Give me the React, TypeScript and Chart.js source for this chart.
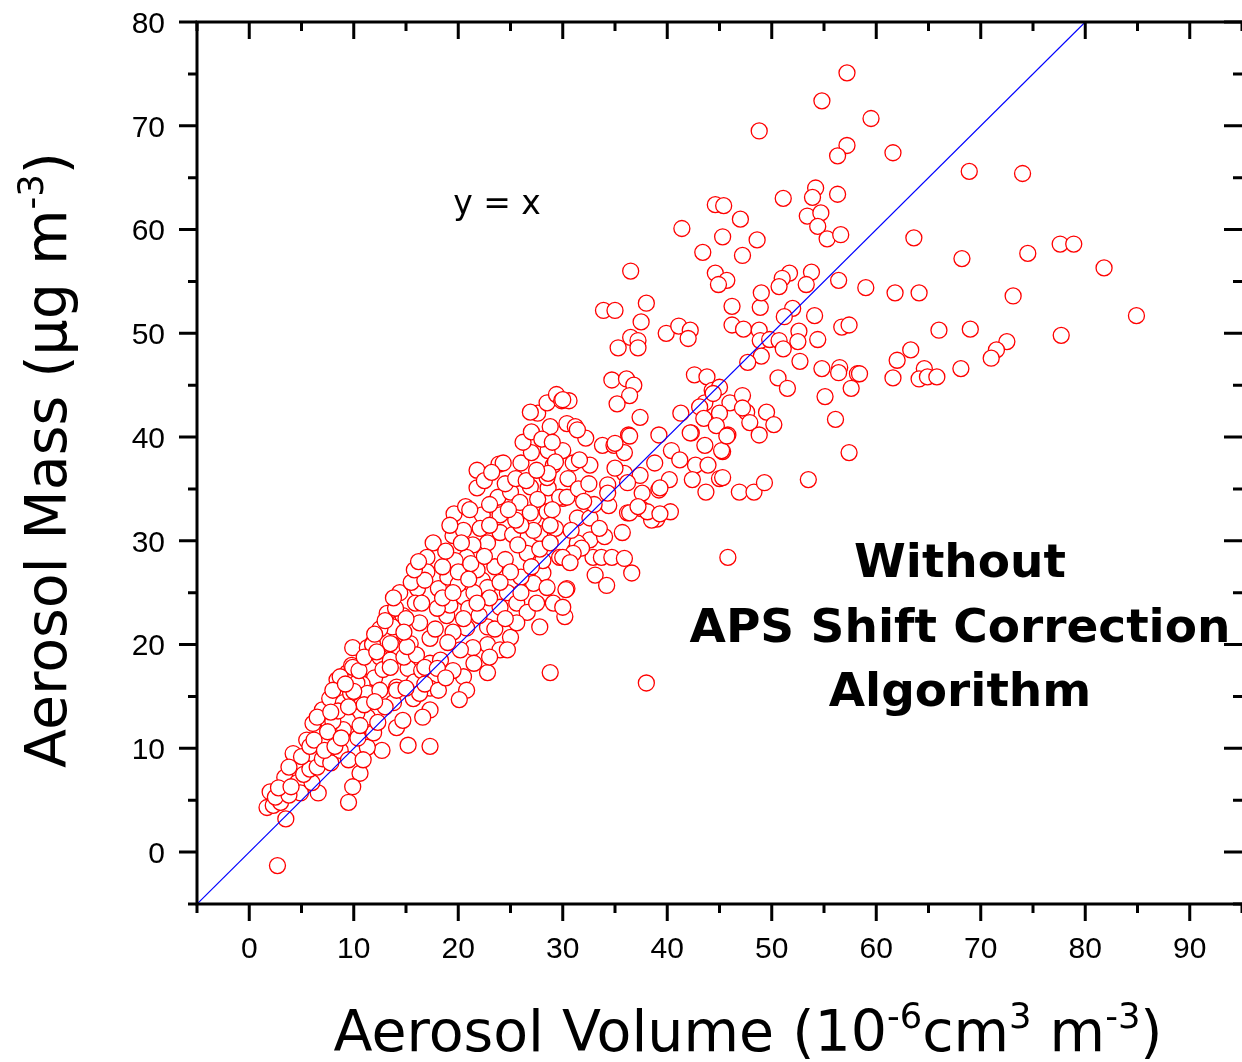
import React, { useEffect, useRef } from "react";
import { Chart, registerables } from "chart.js";

Chart.register(...registerables);

// ---- axis ranges & tick labels ----
const xRange = [-5, 95];
const yRange = [-5, 80];
const xTickValues = [0, 10, 20, 30, 40, 50, 60, 70, 80, 90];
const yTickValues = [0, 10, 20, 30, 40, 50, 60, 70, 80];
const identityLine = [-5, 80]; // y = x reference line endpoints (x = y)

// ---- measurements: [aerosol volume, aerosol mass] ----
const lowCluster: [number, number][] = [
  [2.7, -1.3], [3.5, 3.2], [2.0, 5.8], [1.7, 4.3], [2.3, 4.5], [3.0, 4.8], [3.4, 7.2], [4.6, 6.7], [4.9, 5.7], [6.6, 5.7],
  [6.0, 6.7], [6.3, 9.3], [4.9, 8.6], [4.2, 9.5], [5.5, 10.8], [6.8, 11.5], [6.1, 12.4], [7.5, 12.7], [7.0, 13.7], [7.7, 14.8],
  [8.7, 15.6], [9.4, 17.3], [8.4, 16.6], [9.0, 14.4], [9.9, 12.0], [9.8, 18.0], [9.9, 19.7], [11.3, 19.7], [11.8, 20.1], [11.6, 17.8],
  [12.5, 18.8], [13.7, 20.0], [14.4, 19.5], [15.4, 20.1], [16.3, 22.1], [17.3, 20.6], [17.3, 18.2], [15.2, 17.7], [14.1, 15.9], [13.0, 15.1],
  [11.3, 13.0], [10.3, 13.4], [9.4, 12.7], [9.0, 11.8], [8.0, 11.1], [7.5, 10.5], [8.7, 9.8], [9.5, 8.9], [10.6, 7.6], [9.9, 6.3],
  [9.5, 4.8], [12.7, 9.8], [14.1, 12.0], [15.2, 10.3], [17.3, 10.2], [13.8, 14.4], [15.7, 14.8], [17.3, 15.8], [17.3, 13.7], [16.6, 13.0],
  [11.3, 10.1], [11.9, 11.5], [13.0, 14.0], [14.7, 12.7], [10.9, 8.9], [2.5, 5.3], [3.8, 5.5], [2.8, 6.2], [4.0, 6.3], [5.2, 7.5],
  [5.8, 8.0], [3.8, 8.2], [5.0, 9.2], [6.5, 8.2], [7.0, 9.0], [7.8, 8.6], [5.8, 10.2], [8.0, 12.6], [8.5, 13.6], [7.5, 11.6],
  [10.5, 14.5], [11.5, 15.8], [12.0, 16.8], [10.8, 16.2], [12.8, 17.6], [13.5, 18.5], [14.8, 18.8], [16.0, 19.0], [10.4, 11.0], [12.3, 12.5],
  [15.8, 16.4], [16.5, 17.5], [17.6, 29.8], [17.0, 28.4], [17.0, 27.0], [16.1, 25.4], [14.4, 25.0], [14.7, 22.8], [13.2, 23.0], [13.7, 21.7],
  [15.9, 24.0], [15.1, 19.8], [13.5, 20.1], [11.8, 20.0], [9.9, 17.8], [13.5, 17.8], [10.3, 16.3], [8.7, 16.9], [8.0, 15.6], [9.7, 15.3],
  [11.3, 15.3], [12.5, 15.6], [14.1, 15.6], [16.3, 15.3], [16.8, 17.8], [12.5, 21.5], [13.0, 22.3], [14.0, 23.5], [15.0, 22.5], [15.5, 26.0],
  [16.5, 24.0], [16.8, 26.2], [14.8, 21.2], [12.0, 21.0], [13.8, 24.5], [15.8, 27.2], [16.2, 28.0], [6.2, 10.8], [7.2, 9.8], [8.2, 10.2],
  [8.8, 11.0], [6.5, 13.0], [7.8, 13.5], [9.5, 14.0], [10.0, 15.5], [9.2, 16.2], [10.5, 17.5], [11.0, 18.8], [12.2, 19.3], [11.0, 14.2],
  [12.0, 14.5], [10.6, 12.2], [15.0, 15.8], [16.8, 16.2],
];

const midCluster: [number, number][] = [
  [18.1, 25.4], [18.9, 22.8], [20.5, 24.6], [22.3, 26.2], [21.8, 27.2], [22.8, 25.5], [24.7, 25.0], [24.0, 23.6], [25.6, 24.0], [26.6, 23.1],
  [28.1, 26.9], [27.2, 25.9], [29.1, 24.0], [30.4, 25.4], [30.2, 22.7], [27.8, 21.7], [25.0, 20.7], [25.6, 22.1], [22.8, 21.7], [20.8, 21.6],
  [22.8, 20.0], [21.4, 19.7], [20.2, 19.5], [18.3, 18.5], [18.0, 17.7], [18.1, 15.6], [20.5, 16.9], [20.8, 15.6], [22.8, 17.3], [24.0, 19.5],
  [24.7, 19.5], [28.8, 17.3], [20.1, 14.7], [23.9, 37.4], [21.8, 36.8], [21.8, 35.1], [19.6, 32.6], [20.7, 33.3], [22.3, 32.5], [22.1, 31.2],
  [24.0, 32.5], [23.8, 34.2], [25.0, 34.7], [25.9, 33.7], [26.9, 35.2], [28.6, 35.1], [30.0, 34.1], [28.5, 36.1], [29.1, 37.3], [31.0, 37.5],
  [32.6, 37.3], [24.0, 30.8], [25.2, 30.6], [27.2, 32.3], [28.5, 32.8], [29.3, 31.2], [27.8, 30.7], [31.4, 32.2], [32.6, 30.1], [31.2, 29.1],
  [32.9, 28.4], [29.7, 28.4], [28.1, 28.1], [26.6, 28.8], [25.7, 29.6], [22.8, 29.8], [21.4, 29.6], [20.8, 28.4], [19.7, 28.1], [27.6, 42.3],
  [28.5, 43.3], [29.4, 44.1], [29.9, 43.5], [30.6, 43.5], [28.8, 41.0], [30.4, 41.3], [31.2, 41.0], [32.2, 39.9], [33.8, 39.2], [28.6, 38.7],
  [30.0, 38.7], [29.3, 37.6], [31.6, 37.8], [27.6, 34.0], [24.3, 37.5], [26.9, 32.7], [27.2, 31.0], [28.8, 31.5], [31.4, 29.8], [34.3, 35.4],
  [34.4, 33.4], [34.0, 30.4], [32.6, 32.2], [21.1, 33.0], [34.3, 34.6], [28.6, 36.5], [31.4, 40.7], [30.0, 43.6], [34.9, 39.2], [31.8, 29.3],
  [31.0, 28.8], [30.0, 28.4], [30.7, 27.9], [33.7, 28.4], [34.7, 28.4], [33.1, 26.7], [34.2, 25.7], [30.3, 25.3], [30.0, 23.6], [29.7, 34.2],
  [30.4, 34.2], [26.9, 42.4], [19.0, 26.5], [20.0, 25.8], [21.0, 23.5], [22.0, 22.8], [23.5, 27.5], [24.5, 28.2], [19.5, 30.5], [20.5, 31.0],
  [23.0, 31.5], [26.0, 26.5], [27.0, 27.5], [25.0, 27.0], [23.0, 24.5], [26.0, 31.5], [21.5, 25.0], [18.5, 27.5], [19.2, 23.8], [24.0, 26.0],
  [18.0, 23.5], [18.5, 24.5], [19.5, 25.0], [20.0, 27.0], [18.8, 29.0], [19.2, 31.5], [20.3, 29.8], [21.2, 27.8], [22.5, 28.5], [21.0, 26.3],
  [17.8, 21.5], [19.5, 21.2], [20.5, 22.5], [21.8, 24.0], [23.0, 33.5], [24.5, 35.5], [25.5, 36.0], [26.0, 37.5], [27.0, 38.5], [26.5, 35.8],
  [27.5, 36.8], [25.5, 32.0], [24.8, 33.0], [22.5, 35.8], [23.2, 36.6], [26.2, 39.5], [27.0, 40.5], [28.0, 39.8], [29.0, 39.5], [30.5, 36.0],
  [31.5, 35.0], [32.5, 35.5], [33.0, 33.5], [29.0, 33.0], [30.8, 31.0], [33.5, 31.2], [32.0, 33.8], [27.8, 29.2], [28.8, 29.8], [19.0, 20.2],
  [21.5, 18.2], [23.5, 21.5], [19.5, 17.5], [18.8, 16.8], [24.5, 22.5], [23.0, 18.8], [26.0, 25.0], [27.5, 24.0], [28.5, 25.5],
];

const upperCluster: [number, number][] = [
  [36.5, 56.0], [33.9, 52.2], [35.0, 52.2], [38.0, 52.9], [37.5, 51.1], [36.5, 49.6], [37.2, 49.3], [37.2, 48.6], [35.3, 48.6], [39.9, 50.0],
  [41.1, 50.7], [42.2, 50.3], [42.0, 49.5], [46.2, 52.6], [48.9, 52.5], [52.0, 52.4], [51.2, 51.6], [54.1, 51.7], [46.2, 50.8], [47.3, 50.4],
  [48.8, 50.3], [48.9, 49.3], [49.8, 49.4], [50.7, 49.3], [52.6, 50.2], [52.5, 49.2], [54.4, 49.4], [51.1, 48.5], [52.7, 47.3], [49.0, 47.8],
  [47.7, 47.2], [50.6, 45.7], [51.5, 44.7], [54.8, 46.6], [56.5, 46.7], [56.4, 46.2], [58.2, 46.1], [57.6, 44.7], [55.1, 43.9], [56.1, 41.7],
  [57.4, 38.5], [53.5, 35.9], [56.7, 50.6], [57.4, 50.8], [34.7, 45.5], [36.1, 45.6], [36.8, 45.0], [36.4, 44.0], [35.2, 43.2], [42.6, 46.0],
  [43.8, 45.8], [44.3, 44.5], [45.0, 44.8], [46.0, 43.3], [47.2, 44.0], [43.6, 43.3], [43.1, 42.9], [45.0, 42.3], [47.6, 42.4], [49.5, 42.4],
  [47.9, 41.4], [50.2, 41.2], [48.8, 40.2], [43.5, 41.8], [44.7, 41.1], [45.8, 40.2], [42.3, 40.4], [43.6, 39.2], [45.3, 38.6], [45.0, 36.0],
  [46.9, 34.7], [48.3, 34.7], [49.3, 35.6], [43.7, 34.7], [42.7, 37.3], [43.9, 37.3], [42.4, 35.9], [41.3, 42.3], [39.2, 40.2], [40.4, 38.7],
  [41.2, 37.8], [38.8, 37.5], [40.2, 35.9], [39.2, 34.9], [37.6, 34.6], [37.4, 36.3], [35.9, 38.5], [36.3, 40.2], [37.4, 41.9], [35.0, 39.4],
  [35.9, 36.5], [36.2, 32.7], [37.5, 33.1], [39.0, 32.1], [40.3, 32.8], [35.7, 30.8], [47.2, 42.8], [45.2, 38.7], [45.7, 40.1], [45.3, 36.1],
  [44.4, 44.2], [35.0, 37.0], [36.2, 35.6], [38.5, 32.0], [38.1, 32.8], [36.4, 32.7], [35.9, 28.3], [36.6, 26.9], [39.3, 35.1], [37.2, 33.3],
  [39.3, 32.6], [45.8, 28.4], [36.4, 40.1], [42.2, 40.4], [38.0, 16.3],
];

const topScatter: [number, number][] = [
  [57.2, 75.1], [54.8, 72.4], [59.5, 70.7], [48.8, 69.5], [57.2, 68.1], [56.3, 67.1], [61.6, 67.4], [51.1, 63.0], [54.2, 64.0], [53.9, 63.1],
  [56.3, 63.4], [44.6, 62.4], [45.4, 62.3], [47.0, 61.0], [41.4, 60.1], [53.4, 61.3], [54.7, 61.6], [54.4, 60.3], [55.3, 59.1], [56.6, 59.5],
  [45.3, 59.3], [48.6, 59.0], [43.4, 57.8], [47.2, 57.5], [63.6, 59.2], [44.6, 55.8], [45.7, 55.1], [44.9, 54.7], [51.7, 55.8], [51.0, 55.3],
  [50.7, 54.5], [53.8, 55.9], [53.3, 54.7], [56.4, 55.1], [59.0, 54.4], [61.8, 53.9], [64.1, 53.9], [49.0, 53.9],
];

const rightScatter: [number, number][] = [
  [68.9, 65.6], [74.0, 65.4], [68.2, 57.2], [74.5, 57.7], [77.6, 58.6], [78.9, 58.6], [81.8, 56.3], [73.1, 53.6], [84.9, 51.7], [66.0, 50.3],
  [69.0, 50.4], [77.7, 49.8], [63.3, 48.4], [62.0, 47.4], [72.5, 49.2], [71.5, 48.4], [71.0, 47.6], [68.1, 46.6], [64.6, 46.6], [64.1, 45.6],
  [64.9, 45.8], [65.8, 45.8], [61.6, 45.7], [58.4, 46.1],
];

type Run = { t: string; sup?: boolean };

function drawRich(ctx: CanvasRenderingContext2D, runs: Run[], cx: number, baseline: number, size: number, family: string, weight = "normal") {
  const supSize = size * 0.62;
  const widths = runs.map((r) => {
    ctx.font = `${weight} ${r.sup ? supSize : size}px ${family}`;
    return ctx.measureText(r.t).width;
  });
  const total = widths.reduce((a, b) => a + b, 0);
  let x = cx - total / 2;
  ctx.textAlign = "left";
  ctx.textBaseline = "alphabetic";
  runs.forEach((r, i) => {
    ctx.font = `${weight} ${r.sup ? supSize : size}px ${family}`;
    ctx.fillText(r.t, x, r.sup ? baseline - size * 0.4 : baseline);
    x += widths[i];
  });
}

const TITLE_FONT = "'DejaVu Sans', Verdana, sans-serif";
const TICK_FONT = "'Liberation Sans', Arial, sans-serif";
const TICK_SIZE = 30;

const framePlugin = {
  id: "frame",
  afterDraw(chart: any) {
    const { ctx, chartArea } = chart;
    const { left, right, top, bottom } = chartArea;
    const xs = chart.scales.x;
    const ys = chart.scales.y;
    ctx.save();
    ctx.strokeStyle = "#000";
    ctx.lineWidth = 3;
    ctx.lineCap = "butt";
    // axis lines
    ctx.beginPath();
    ctx.moveTo(left, top);
    ctx.lineTo(left, bottom);
    ctx.moveTo(left - 1.5, bottom);
    ctx.lineTo(right, bottom);
    ctx.moveTo(left - 1.5, top);
    ctx.lineTo(right, top);
    ctx.stroke();
    // ticks every 5, major every 10
    ctx.beginPath();
    for (let v = xRange[0]; v <= xRange[1]; v += 5) {
      const px = xs.getPixelForValue(v);
      const len = v % 10 === 0 ? 17 : 9;
      ctx.moveTo(px, bottom);
      ctx.lineTo(px, bottom + len);
      ctx.moveTo(px, top);
      ctx.lineTo(px, top + len);
    }
    for (let v = yRange[0]; v <= yRange[1]; v += 5) {
      const py = ys.getPixelForValue(v);
      const len = v % 10 === 0 ? 18 : 9;
      ctx.moveTo(left, py);
      ctx.lineTo(left - len, py);
      ctx.moveTo(right, py);
      ctx.lineTo(right - len, py);
    }
    ctx.stroke();

    // tick labels
    ctx.fillStyle = "#000";
    ctx.font = `${TICK_SIZE}px ${TICK_FONT}`;
    ctx.textBaseline = "alphabetic";
    ctx.textAlign = "center";
    xTickValues.forEach((v) => {
      ctx.fillText(String(v), xs.getPixelForValue(v), bottom + 54);
    });
    ctx.textAlign = "right";
    yTickValues.forEach((v) => {
      ctx.fillText(String(v), left - 32, ys.getPixelForValue(v) + TICK_SIZE * 0.36);
    });

    // x axis title
    drawRich(
      ctx,
      [{ t: "Aerosol Volume (10" }, { t: "-6", sup: true }, { t: "cm" }, { t: "3", sup: true }, { t: " m" }, { t: "-3", sup: true }, { t: ")" }],
      748, 1051, 57, TITLE_FONT
    );
    // y axis title
    ctx.save();
    ctx.translate(66, 460);
    ctx.rotate(-Math.PI / 2);
    drawRich(ctx, [{ t: "Aerosol Mass (\u00b5g m" }, { t: "-3", sup: true }, { t: ")" }], 0, 0, 57, TITLE_FONT);
    ctx.restore();

    // annotations
    drawRich(ctx, [{ t: "y = x" }], 497, 214, 33, TITLE_FONT);
    drawRich(ctx, [{ t: "Without" }], 960, 577, 47, TITLE_FONT, "bold");
    drawRich(ctx, [{ t: "APS Shift Correction" }], 960, 642, 47, TITLE_FONT, "bold");
    drawRich(ctx, [{ t: "Algorithm" }], 960, 706, 47, TITLE_FONT, "bold");
    ctx.restore();
  },
};

export default function App() {
  const ref = useRef<HTMLCanvasElement | null>(null);

  useEffect(() => {
    if (!ref.current) return;
    const all = [...lowCluster, ...midCluster, ...upperCluster, ...topScatter, ...rightScatter];
    const chart = new Chart(ref.current, {
      type: "scatter",
      data: {
        datasets: [
          {
            type: "line",
            data: identityLine.map((v) => ({ x: v, y: v })),
            borderColor: "#0000ff",
            borderWidth: 1.2,
            pointRadius: 0,
            fill: false,
          } as any,
          {
            data: all.map(([x, y]) => ({ x, y })),
            pointRadius: 8,
            pointBorderWidth: 1.3,
            borderColor: "#ff0000",
            backgroundColor: "#ffffff",
            pointBackgroundColor: "#ffffff",
            pointBorderColor: "#ff0000",
          },
        ],
      },
      options: {
        responsive: false,
        maintainAspectRatio: false,
        animation: false,
        devicePixelRatio: 1,
        layout: { autoPadding: false, padding: { top: 22, left: 0, right: 0, bottom: 0 } },
        plugins: { legend: { display: false }, tooltip: { enabled: false } },
        scales: {
          x: {
            type: "linear",
            position: "bottom",
            min: xRange[0],
            max: xRange[1],
            grid: { display: false, drawTicks: false },
            border: { display: false },
            ticks: { display: false, stepSize: 5 },
            afterFit: (s: any) => {
              s.height = 158;
            },
          },
          y: {
            type: "linear",
            position: "left",
            min: yRange[0],
            max: yRange[1],
            grid: { display: false, drawTicks: false },
            border: { display: false },
            ticks: { display: false, stepSize: 5 },
            afterFit: (s: any) => {
              s.width = 197;
            },
          },
        },
      },
      plugins: [framePlugin],
    });
    return () => chart.destroy();
  }, []);

  return (
    <div style={{ position: "absolute", left: 0, top: 0, width: 1242, height: 1062, background: "#fff" }}>
      <canvas ref={ref} width={1242} height={1062} style={{ display: "block", width: 1242, height: 1062 }} />
    </div>
  );
}
